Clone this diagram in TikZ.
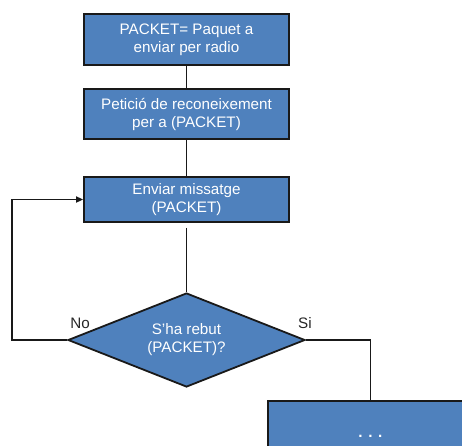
\documentclass[tikz,border=0pt]{standalone}
\usepackage{fontspec}
\setmainfont{Liberation Sans}
\usetikzlibrary{shapes.geometric,arrows.meta}
\definecolor{boxblue}{RGB}{79,129,189}
\definecolor{edgegray}{RGB}{25,25,25}
\begin{document}
\begin{tikzpicture}[x=1pt,y=-1pt,
  txt/.style={font=\fontsize{15.2}{18}\selectfont},
  stepbox/.style={txt, draw=edgegray, line width=1.8pt, fill=boxblue, text=white,
    align=center, minimum width=205pt, inner sep=0pt},
  decision/.style={txt, diamond, draw=edgegray, line width=1.8pt, fill=boxblue, text=white,
    align=center, minimum width=237pt, minimum height=94pt, inner sep=0pt, aspect=2.52},
  link/.style={draw=edgegray, line width=1.7pt},
  lbl/.style={txt, text=black!85, inner sep=0pt}]
\useasboundingbox (0,0) rectangle (462,445);
\clip (0,0) rectangle (462,445);

% process steps
\node[stepbox, minimum height=51pt] (pkt) at (186.5,39.5) {PACKET= Paquet a\\enviar per radio};
\node[stepbox, minimum height=50pt] (req) at (186.5,114) {Petició de reconeixement\\per a (PACKET)};
\node[stepbox, minimum height=45pt] (send) at (186.5,199.5) {Enviar missatge\\(PACKET)};
\node[decision] (ack) at (186.5,340) {S'ha rebut\\(PACKET)?};
\node[stepbox, minimum height=70pt, anchor=north west] (next) at (267,400) {\textbf{. . .}};

% connectors
\draw[link] (pkt) -- (req);
\draw[link] (req) -- (send);
\draw[link, shorten <=5pt] (send) -- (ack);
\coordinate (bend) at (12,340);
\draw[link, -{Triangle[length=7pt,width=6pt]}] (ack.west) -- (bend) |- (send.west);
\draw[link] (ack.east) -| (next.north);

% branch labels
\node[lbl] (no) at (80,323) {No};
\node[lbl] (si) at (305,323) {Si};
\end{tikzpicture}
\end{document}
